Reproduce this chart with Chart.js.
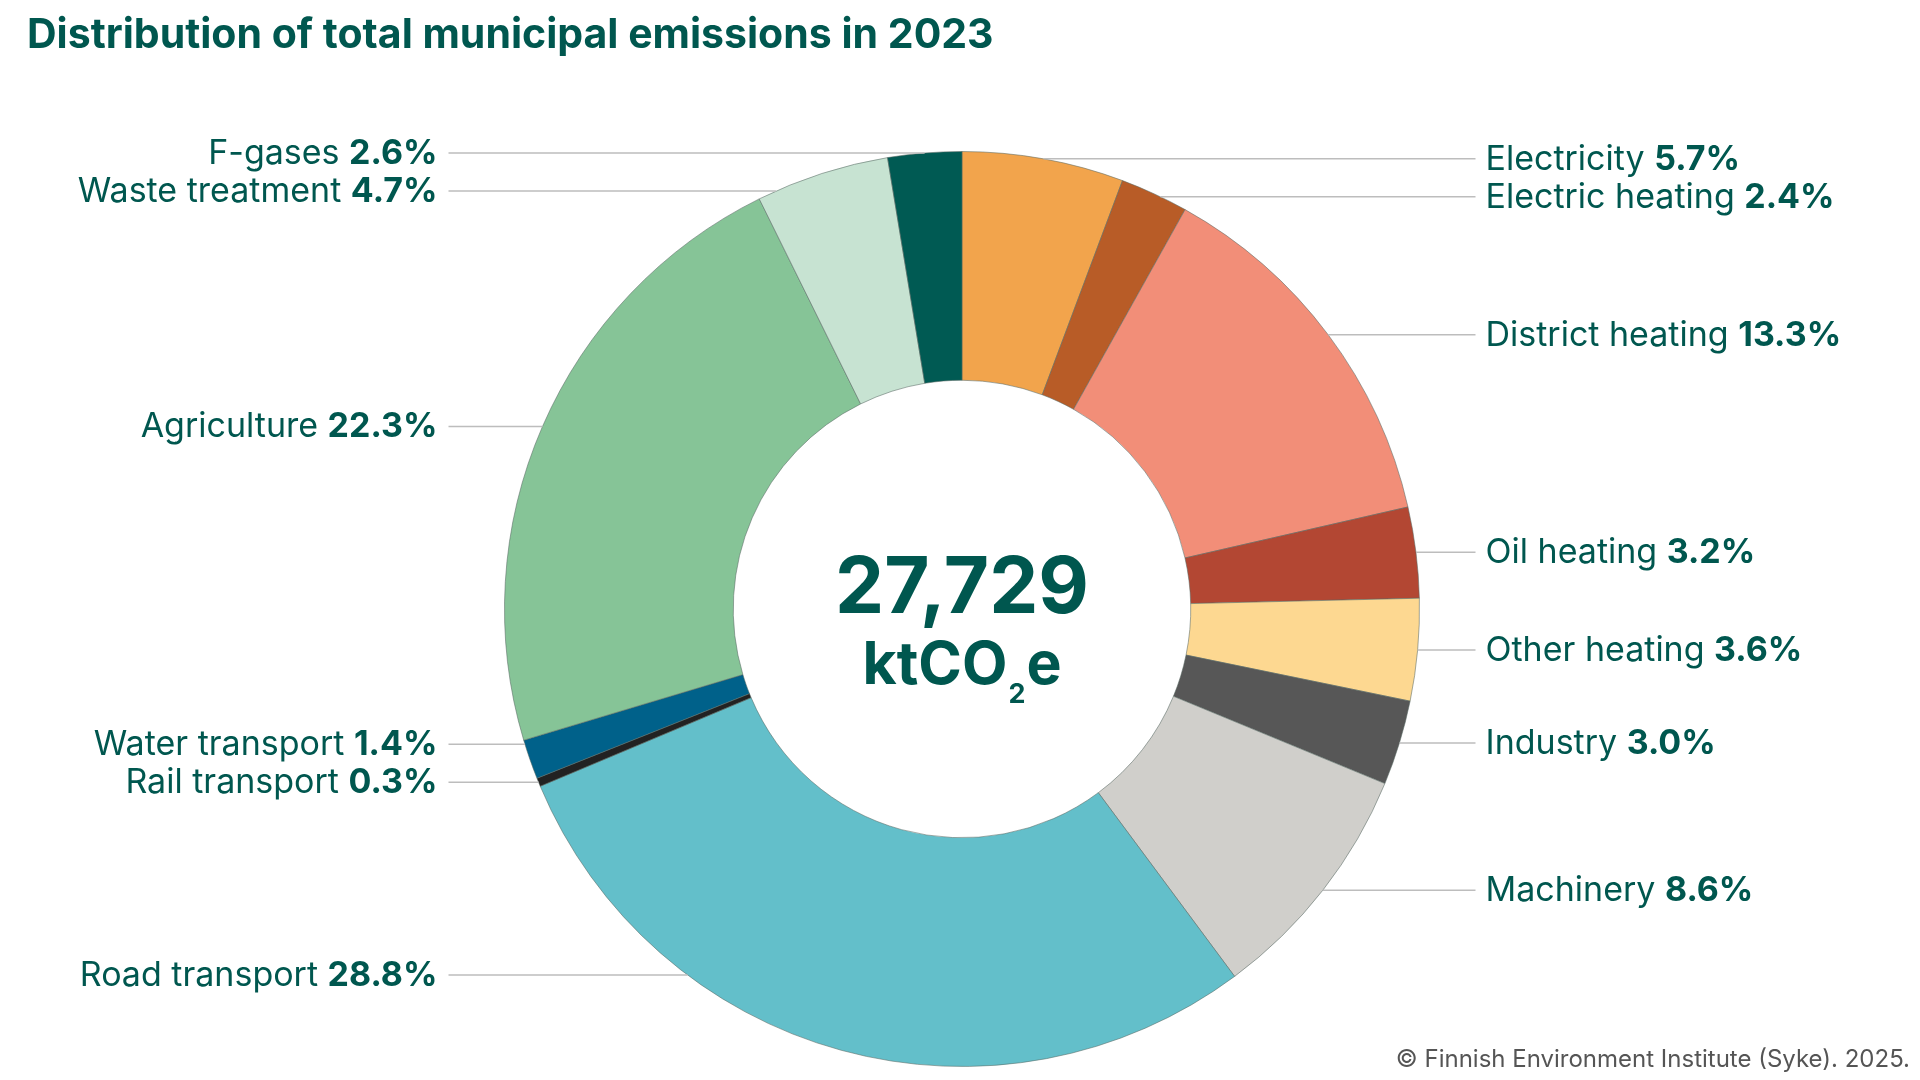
<!DOCTYPE html>
<html>
<head>
<meta charset="utf-8">
<title>Distribution of total municipal emissions in 2023</title>
<script src="https://cdn.jsdelivr.net/npm/chart.js@4.4.1/dist/chart.umd.min.js"></script>
<style>
  html, body { margin: 0; padding: 0; background: #fff; }
  #wrap { position: relative; width: 1920px; height: 1080px; }
</style>
</head>
<body>
<div id="wrap"><canvas id="chart"></canvas></div>
<script>
const TITLE = 'Distribution of total municipal emissions in 2023';
const CREDIT = '\u00a9 Finnish Environment Institute (Syke). 2025.';
const TOTAL_KT = 27729;

const sectors = ['Electricity', 'Electric heating', 'District heating', 'Oil heating', 'Other heating', 'Industry', 'Machinery', 'Road transport', 'Rail transport', 'Water transport', 'Agriculture', 'Waste treatment', 'F-gases'];
const shares = [5.7, 2.4, 13.3, 3.2, 3.6, 3.0, 8.6, 28.8, 0.3, 1.4, 22.3, 4.7, 2.6];
const sectorColors = ['#f2a44c', '#b85c27', '#f28e78', '#b34733', '#fdd891', '#575757', '#d0cfcb', '#63bfca', '#222222', '#00618a', '#86c497', '#c7e3d2', '#005a53'];

const TEXT = '#00574f';
const FONT = 'Inter, "Open Sans", sans-serif';

// labels sit at the slice's mid-angle height, nudged apart and kept off the bottom
const calloutPlugin = {
  id: 'callouts',
  afterDatasetsDraw(chart) {
    const ctx = chart.ctx;
    const arcs = chart.getDatasetMeta(0).data;
    if (!arcs.length) return;
    const { x: cx, y: cy, outerRadius: R } = arcs[0];
    const GAP = 38;

    const items = arcs.map((arc, i) => {
      const mid = (arc.startAngle + arc.endAngle) / 2;
      const y = Math.min(cy + R * Math.sin(mid), cy + 0.8 * R);
      return { i, side: Math.cos(mid) >= 0 ? 1 : -1, y };
    });

    [1, -1].forEach(side => {
      const upper = items.filter(d => d.side === side && d.y < cy).sort((a, b) => a.y - b.y);
      for (let k = 1; k < upper.length; k++) upper[k].y = Math.max(upper[k].y, upper[k - 1].y + GAP);
      const lower = items.filter(d => d.side === side && d.y >= cy).sort((a, b) => b.y - a.y);
      for (let k = 1; k < lower.length; k++) lower[k].y = Math.min(lower[k].y, lower[k - 1].y - GAP);
    });

    ctx.save();
    items.forEach(d => {
      const dy = d.y - cy;
      const dx = Math.sqrt(Math.max(R * R - dy * dy, 0));
      ctx.strokeStyle = '#bdbdbd';
      ctx.lineWidth = 1.5;
      ctx.beginPath();
      ctx.moveTo(cx + d.side * dx, d.y);
      ctx.lineTo(cx + d.side * (R + 56), d.y);
      ctx.stroke();

      const name = sectors[d.i] + ' ';
      const val = shares[d.i].toFixed(1) + '%';
      const base = d.y + 11;
      ctx.fillStyle = TEXT;
      ctx.textBaseline = 'alphabetic';
      const regular = `400 34px ${FONT}`;
      const bold = `700 34px ${FONT}`;
      if (d.side === 1) {
        const x0 = cx + R + 66;
        ctx.textAlign = 'left';
        ctx.font = regular;
        ctx.fillText(name, x0, base);
        const w = ctx.measureText(name).width;
        ctx.font = bold;
        ctx.fillText(val, x0 + w, base);
      } else {
        const xr = cx - R - 67;
        ctx.textAlign = 'right';
        ctx.font = bold;
        ctx.fillText(val, xr, base);
        const w = ctx.measureText(val).width;
        ctx.font = regular;
        ctx.fillText(name, xr - w, base);
      }
    });

    // centre total
    ctx.textAlign = 'center';
    ctx.fillStyle = TEXT;
    ctx.font = `700 78px ${FONT}`;
    ctx.fillText(TOTAL_KT.toLocaleString('en-US'), cx, cy + 4);

    const main = `700 59px ${FONT}`;
    const sub = `700 27px ${FONT}`;
    ctx.font = main;
    const wA = ctx.measureText('ktCO').width;
    const wE = ctx.measureText('e').width;
    ctx.font = sub;
    const w2 = ctx.measureText('2').width + 2;
    let ux = cx - (wA + w2 + wE) / 2;
    ctx.textAlign = 'left';
    ctx.font = main;
    ctx.fillText('ktCO', ux, cy + 75);
    ctx.font = sub;
    ctx.fillText('2', ux + wA + 1, cy + 94);
    ctx.font = main;
    ctx.fillText('e', ux + wA + w2, cy + 75);

    // title and credit
    ctx.font = `700 41px ${FONT}`;
    ctx.fillText(TITLE, 27, 48);
    ctx.font = `400 24px ${FONT}`;
    ctx.fillStyle = '#555555';
    ctx.textAlign = 'right';
    ctx.fillText(CREDIT, 1910, 1067);
    ctx.restore();
  }
};

new Chart(document.getElementById('chart'), {
  type: 'doughnut',
  data: {
    labels: sectors,
    datasets: [{
      data: shares,
      backgroundColor: sectorColors,
      borderColor: 'rgba(90, 105, 100, 0.55)',
      borderWidth: 1,
      hoverOffset: 0,
      offset: 0
    }]
  },
  options: {
    responsive: true,
    maintainAspectRatio: false,
    animation: false,
    events: [],
    cutout: '50%',
    layout: { padding: { left: 504, right: 500, top: 151, bottom: 13 } },
    plugins: {
      legend: { display: false },
      title: { display: false },
      tooltip: { enabled: false }
    }
  },
  plugins: [calloutPlugin]
});
</script>
</body>
</html>
